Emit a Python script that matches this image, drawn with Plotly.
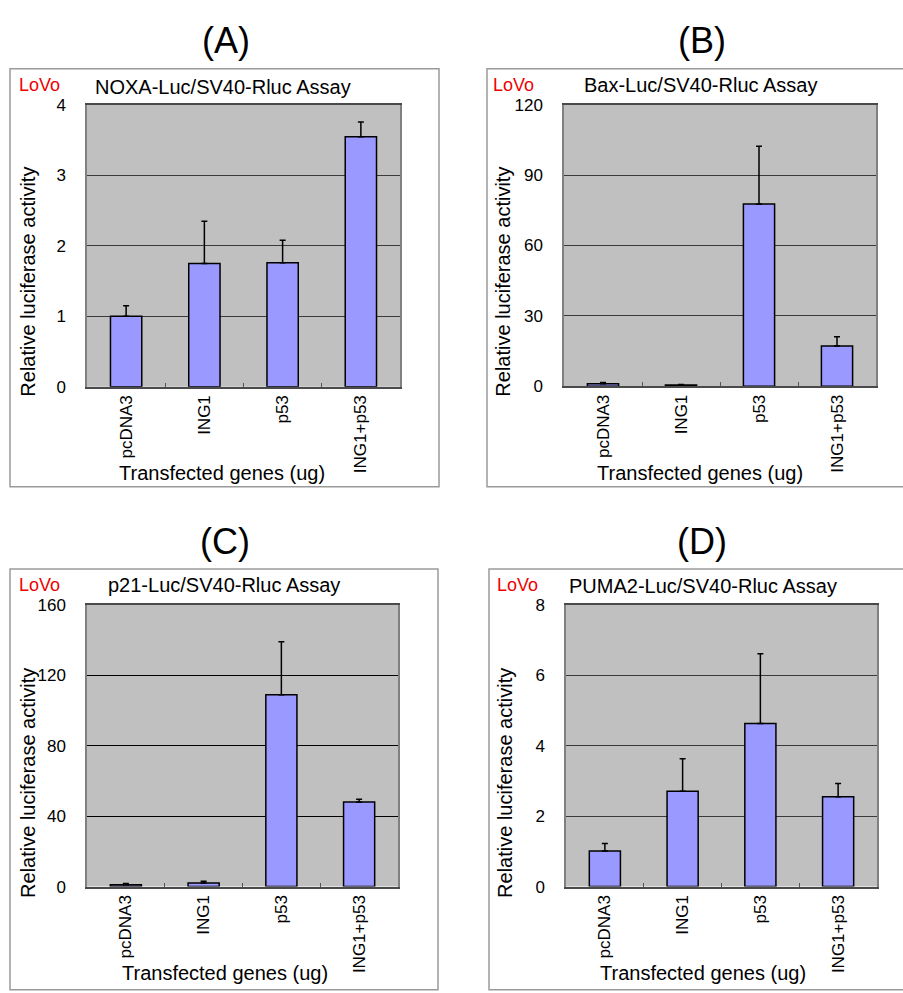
import plotly.graph_objects as go

W, H = 903, 993

genes = ["pcDNA3", "ING1", "p53", "ING1+p53"]

noxa_vals = [1.0, 1.75, 1.76, 3.55]
noxa_err = [0.15, 0.60, 0.32, 0.21]

bax_vals = [1.0, 0.5, 77.6, 17.1]
bax_err = [0.5, 0.2, 24.7, 3.9]

p21_vals = [1.0, 2.0, 109.0, 48.0]
p21_err = [0.8, 1.0, 30.0, 1.6]

puma_vals = [1.01, 2.71, 4.63, 2.55]
puma_err = [0.21, 0.92, 1.98, 0.38]

panel_letters = ["(A)", "(B)", "(C)", "(D)"]
assay_titles = ["NOXA-Luc/SV40-Rluc Assay", "Bax-Luc/SV40-Rluc Assay",
                "p21-Luc/SV40-Rluc Assay", "PUMA2-Luc/SV40-Rluc Assay"]
y_ranges = [(0, 4), (0, 120), (0, 160), (0, 8)]
y_dticks = [1, 30, 40, 2]
cell_line = "LoVo"
x_title = "Transfected genes (ug)"
y_title = "Relative luciferase activity"

FONT = "Arial, Liberation Sans, sans-serif"

# layout in pixels (plot area boxes)
plot_boxes = [  # x0, x1, y0(top), y1(bottom)
    (87, 400, 98, 385),
    (564, 876, 97.5, 384.5),
    (87, 398, 607.5, 894.7),
    (566, 877, 607.5, 894.7),
]
frames = [(10, 439, 61, 487), (487, 910, 61, 487), (10, 438, 571, 1000), (489, 910, 571, 1000)]
letter_pos = [(226, 32), (702, 32), (225, 543), (702, 543)]
lovo_pos = [(17, 77), (491, 77), (17, 587), (495, 587)]
title_pos = [(223, 80), (700, 77), (224, 587), (703, 588)]
xt_pos = [(222, 473), (700, 473), (225, 983), (703, 983)]
yt_pos = [(28, 278), (503, 278), (28, 789), (505, 789)]

def px(x):
    return x / W

def py(y):
    return 1 - y / H

fig = go.Figure()
datasets = [(noxa_vals, noxa_err), (bax_vals, bax_err), (p21_vals, p21_err), (puma_vals, puma_err)]

annotations = []
shapes = []
for i, (vals, errs) in enumerate(datasets):
    n = "" if i == 0 else str(i + 1)
    fig.add_trace(go.Bar(
        x=genes, y=vals,
        xaxis="x" + n, yaxis="y" + n,
        width=0.4,
        marker=dict(color="#9999ff", line=dict(color="#000000", width=1.5)),
        error_y=dict(type="data", symmetric=False, array=errs,
                     arrayminus=[0] * len(errs), color="#000000",
                     thickness=1.5, width=3),
        showlegend=False,
    ))
    bx0, bx1, by0, by1 = plot_boxes[i]
    grid_col = "#000000" if i == 2 else "#3a3a3a"
    fig.update_layout(**{
        "xaxis" + n: dict(
            domain=[px(bx0), px(bx1)], anchor="y" + n,
            type="category", tickson="boundaries", ticks="inside", ticklen=4,
            tickcolor="#555555", tickangle=-90,
            tickfont=dict(family=FONT, size=17, color="#000000"),
            showline=True, linecolor="#4a4a4a", linewidth=1.5, mirror=True,
            showgrid=False, fixedrange=True,
        ),
        "yaxis" + n: dict(
            domain=[py(by1), py(by0)], anchor="x" + n,
            range=list(y_ranges[i]), dtick=y_dticks[i], tick0=0,
            ticks="", ticklabelstandoff=16,
            tickfont=dict(family=FONT, size=17, color="#000000"),
            showline=True, linecolor="#808080", linewidth=1.5, mirror=True,
            showgrid=True, gridcolor=grid_col, gridwidth=1.3 if i == 2 else 1,
            zeroline=False, fixedrange=True,
        ),
    })
    # plot background
    shapes.append(dict(type="rect", xref="paper", yref="paper", layer="below",
                       x0=px(bx0), x1=px(bx1), y0=py(by1), y1=py(by0),
                       fillcolor="#c0c0c0", line=dict(width=0)))
    fx0, fx1, fy0, fy1 = frames[i]
    shapes.append(dict(type="rect", xref="paper", yref="paper", layer="below",
                       x0=px(fx0), x1=px(fx1), y0=py(fy1), y1=py(fy0),
                       fillcolor="rgba(0,0,0,0)", line=dict(color="#9a9a9a", width=1.5)))
    lx, ly = letter_pos[i]
    annotations.append(dict(text=panel_letters[i], x=px(lx), y=py(ly), xref="paper", yref="paper",
                            showarrow=False, xanchor="center", yanchor="middle",
                            font=dict(family=FONT, size=36, color="#000000")))
    lvx, lvy = lovo_pos[i]
    annotations.append(dict(text=cell_line, x=px(lvx), y=py(lvy), xref="paper", yref="paper",
                            showarrow=False, xanchor="left", yanchor="middle",
                            font=dict(family=FONT, size=18, color="#ee0000")))
    tx, ty = title_pos[i]
    annotations.append(dict(text=assay_titles[i], x=px(tx), y=py(ty), xref="paper", yref="paper",
                            showarrow=False, xanchor="center", yanchor="middle",
                            font=dict(family=FONT, size=20, color="#000000")))
    xx, xy = xt_pos[i]
    annotations.append(dict(text=x_title, x=px(xx), y=py(xy), xref="paper", yref="paper",
                            showarrow=False, xanchor="center", yanchor="middle",
                            font=dict(family=FONT, size=20, color="#000000")))
    yx, yy = yt_pos[i]
    annotations.append(dict(text=y_title, x=px(yx), y=py(yy), xref="paper", yref="paper",
                            showarrow=False, xanchor="center", yanchor="middle", textangle=-90,
                            font=dict(family=FONT, size=20, color="#000000")))

fig.update_layout(
    width=W, height=H,
    margin=dict(l=0, r=0, t=0, b=0),
    paper_bgcolor="#ffffff", plot_bgcolor="rgba(0,0,0,0)",
    annotations=annotations, shapes=shapes,
    bargap=0.6,
)

fig.write_html("out.html")
